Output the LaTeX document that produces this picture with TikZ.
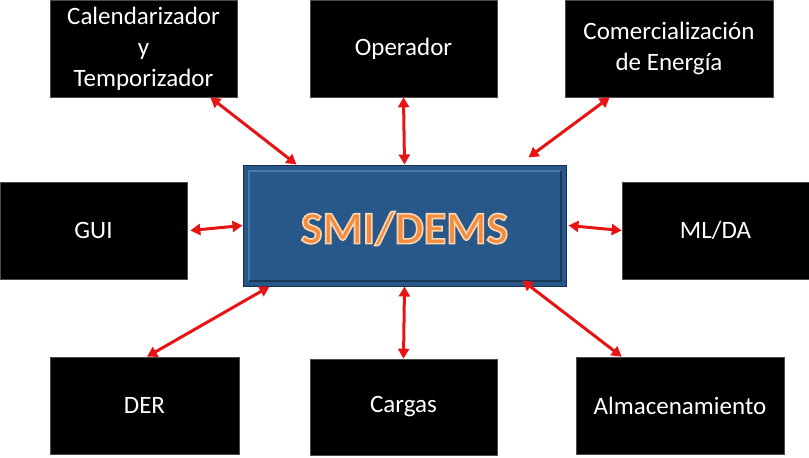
\documentclass[tikz,border=0pt]{standalone}
\usepackage{fontspec}
\setmainfont{Carlito}
\usetikzlibrary{arrows.meta,calc}
\definecolor{boxblue}{RGB}{40,88,138}
\definecolor{boxedge}{RGB}{22,48,78}
\definecolor{bevel}{RGB}{70,120,170}
\definecolor{smiorange}{RGB}{243,140,62}
\definecolor{arrowred}{RGB}{230,20,20}
\newcommand{\glowtext}[1]{\special{pdf:literal direct q 2 Tr 1.6 w 0.99 0.84 0.70 RG}#1\special{pdf:literal direct Q}}
\tikzset{
  blk/.style={draw=black!70, line width=0.6pt, fill=black, text=white, align=center,
    font=\fontsize{25}{31}\selectfont, inner sep=0pt, minimum height=97pt},
  link/.style={draw=arrowred, line width=3pt, {Triangle[length=10pt,width=11pt]}-{Triangle[length=10pt,width=11pt]}}
}
\begin{document}
\begin{tikzpicture}[x=1pt,y=-1pt]
\useasboundingbox (0,0) rectangle (809,458);
% outer boxes
\node[blk, minimum width=187pt] (cal) at (143.5,48.5) {Calendarizador\\y\\Temporizador};
\node[blk, minimum width=187pt] (op)  at (403.5,48.5) {Operador};
\node[blk, minimum width=208pt] (com) at (669,48.5) {Comercialización\\de Energía};
\node[blk, minimum width=187pt] (gui) at (93.5,230.5) {GUI};
\node[blk, minimum width=187pt] (ml)  at (715.5,230.5) {ML/DA};
\node[blk, minimum width=189pt] (der) at (144.5,405.5) {DER};
\node[blk, minimum width=187pt, minimum height=96pt] (car) at (403.5,407) {Cargas};
\node[blk, minimum width=208pt] (alm) at (680,405.5) {Almacenamiento};
% central box
\node[draw=boxedge, line width=1pt, fill=boxblue, minimum width=323pt, minimum height=121pt, inner sep=0pt] (smi) at (404.5,225.5) {};
\draw[bevel, line width=2pt] ($(smi.south west)+(6,-6)$) -- ($(smi.north west)+(6,6)$) -- ($(smi.north east)+(-6,6)$);
\draw[boxedge!80!boxblue, line width=2pt] ($(smi.north east)+(-6,6)$) -- ($(smi.south east)+(-6,-6)$) -- ($(smi.south west)+(6,-6)$);
\node[font=\fontsize{46}{50}\bfseries\selectfont, text=smiorange] (smitext) at ($(smi.center)+(0,3)$) {\glowtext{SMI/DEMS}};
% connectors
\coordinate (c1) at ($(cal.south east)+(-27,0)$);
\coordinate (c2) at ($(smi.north west)+(54,0)$);
\draw[link] (c1) -- (c2);
\draw[link] (op.south) -- (smi.north);
\coordinate (c3) at ($(com.south west)+(45,0)$);
\coordinate (c4) at ($(smi.north east)+(-38,-7)$);
\draw[link] (c3) -- (c4);
\draw[link] ($(gui.east)+(3,0)$) -- (smi.west);
\draw[link] ($(smi.east)+(2,0)$) -- (ml.west);
\coordinate (c5) at ($(smi.south west)+(27,0)$);
\coordinate (c6) at ($(der.north)+(2.5,0)$);
\draw[link] (c5) -- (c6);
\draw[link] (smi.south) -- (car.north);
\coordinate (c7) at ($(smi.south east)+(-44,-6)$);
\coordinate (c8) at ($(alm.north west)+(46,0)$);
\draw[link] (c7) -- (c8);
\end{tikzpicture}
\end{document}
